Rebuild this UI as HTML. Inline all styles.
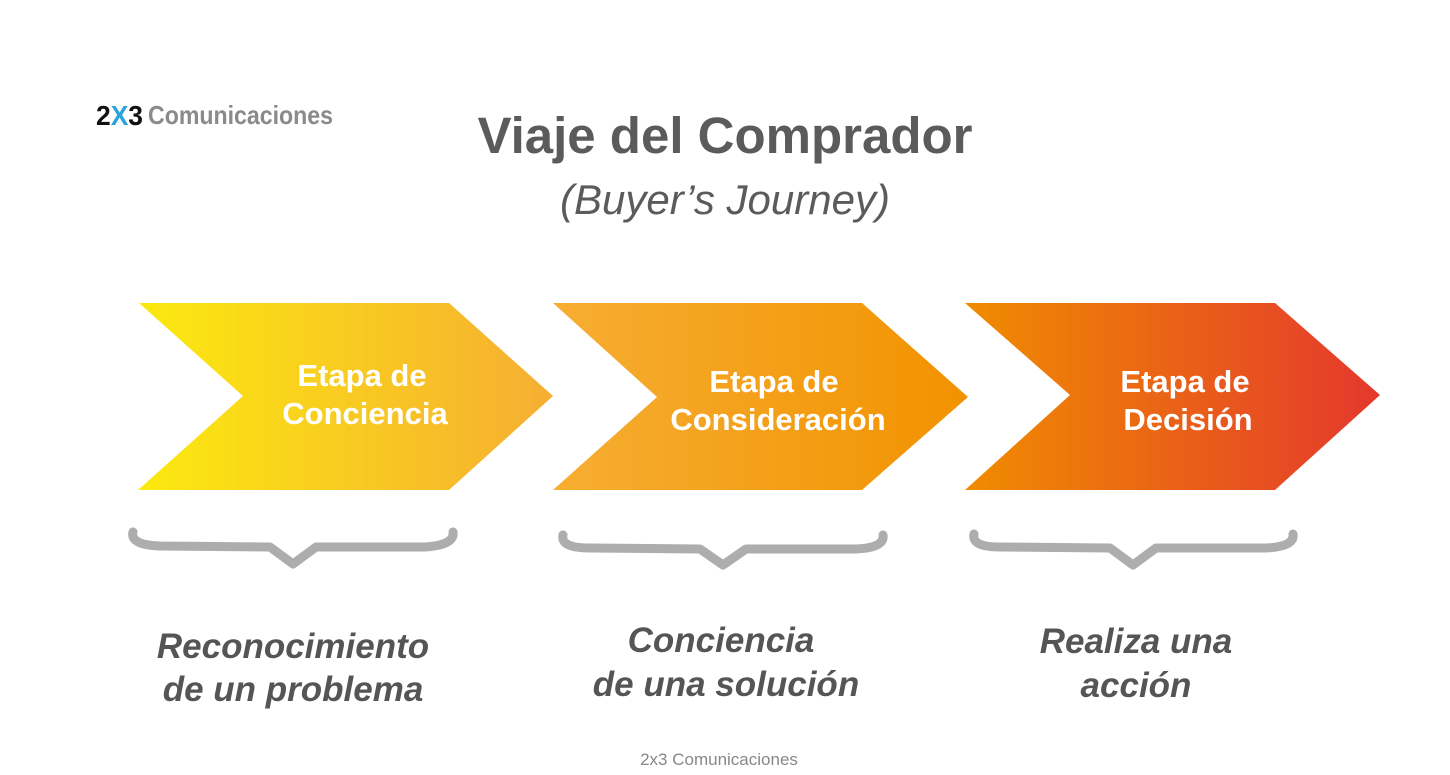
<!DOCTYPE html>
<html><head><meta charset="utf-8"><style>
html,body{margin:0;padding:0;background:#fff;}
svg{display:block;}
</style></head><body>
<svg width="1450" height="775" viewBox="0 0 1450 775" xmlns="http://www.w3.org/2000/svg">
<defs>
<linearGradient id="g1" x1="0" x2="1" y1="0" y2="0"><stop offset="0" stop-color="#fbe90f"/><stop offset="1" stop-color="#f6ae32"/></linearGradient>
<linearGradient id="g2" x1="0" x2="1" y1="0" y2="0"><stop offset="0" stop-color="#f6ae32"/><stop offset="1" stop-color="#f29200"/></linearGradient>
<linearGradient id="g3" x1="0" x2="1" y1="0" y2="0"><stop offset="0" stop-color="#f08c00"/><stop offset="1" stop-color="#e4382d"/></linearGradient>
</defs>
<g font-family="Liberation Sans, sans-serif">
<text x="96" y="125" font-size="28" font-weight="bold" fill="#111" textLength="47" lengthAdjust="spacingAndGlyphs">2<tspan fill="#29a3dc">X</tspan>3</text>
<text x="148" y="124" font-size="26" font-weight="bold" fill="#8a8a8a" textLength="185" lengthAdjust="spacingAndGlyphs">Comunicaciones</text>
<text x="725" y="153" font-size="51" font-weight="bold" fill="#5b5b5b" text-anchor="middle">Viaje del Comprador</text>
<text x="725" y="214" font-size="42" font-style="italic" fill="#5b5b5b" text-anchor="middle">(Buyer’s Journey)</text>

<polygon points="139,303 449,303 553,396 449,490 138,490 243,396" fill="url(#g1)"/>
<polygon points="553,303 862,303 968,397 862,490 553,490 657,397" fill="url(#g2)"/>
<polygon points="965,303 1275,303 1380,395 1275,490 965,490 1070,395" fill="url(#g3)"/>

<g font-size="31" font-weight="bold" fill="#fff" text-anchor="middle">
<text x="362" y="386">Etapa de</text><text x="365" y="424">Conciencia</text>
<text x="774" y="392">Etapa de</text><text x="778" y="430">Consideración</text>
<text x="1185" y="392">Etapa de</text><text x="1188" y="430">Decisión</text>
</g>

<g fill="none" stroke="#adadad" stroke-width="9" stroke-linecap="round" stroke-linejoin="round">
<path d="M133,532 Q130,545 160,546 L270,547 L293,564 L316,547 L425,547 Q455,545 453,532"/>
<path d="M563,535 Q560,548 590,548 L700,549 L723,565 L746,549 L855,549 Q885,548 883,535"/>
<path d="M974,534 Q971,547 1000,547 L1110,548 L1133,565 L1156,548 L1265,548 Q1295,547 1293,534"/>
</g>

<g font-size="35" font-weight="bold" font-style="italic" fill="#555" text-anchor="middle">
<text x="293" y="658">Reconocimiento</text><text x="293" y="701">de un problema</text>
<text x="721" y="652">Conciencia</text><text x="726" y="696">de una solución</text>
<text x="1136" y="653">Realiza una</text><text x="1136" y="697">acción</text>
</g>
<text x="719" y="765" font-size="17" fill="#888" text-anchor="middle">2x3 Comunicaciones</text>
</g>
</svg>
</body></html>
